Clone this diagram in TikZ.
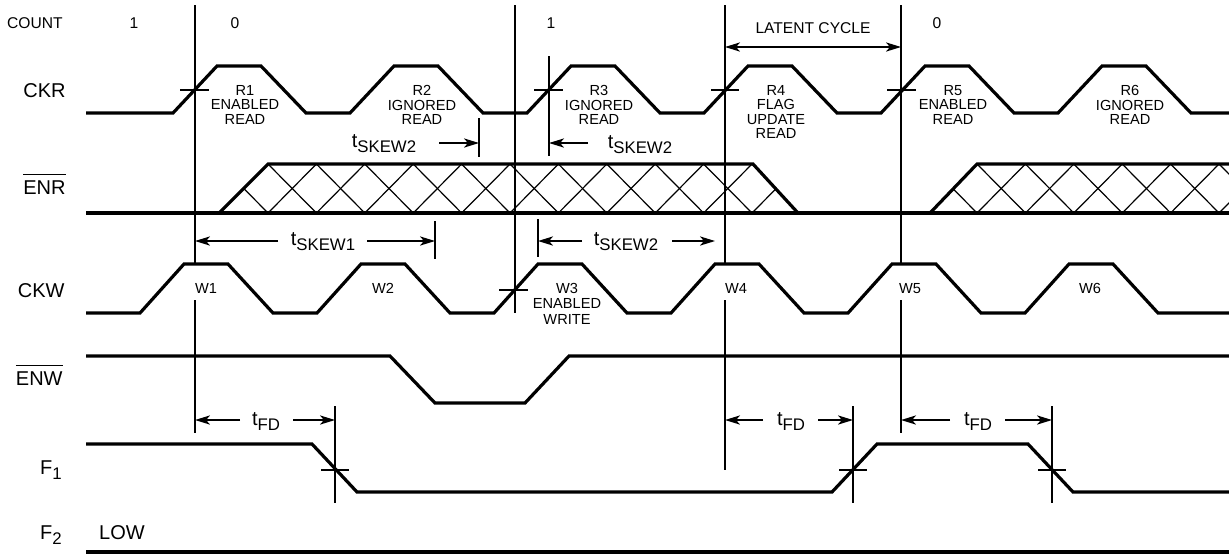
\documentclass[tikz,border=0pt]{standalone}
\usepackage{fontspec}
\setmainfont{Liberation Sans}
\usetikzlibrary{arrows.meta}
\newcommand\myovl[1]{\vbox{\hrule height 0.7pt\kern 2.6pt\hbox{#1}}}
\newcommand\tsub[2]{#1\raisebox{-2.8pt}{\fontsize{8.4}{9}\selectfont #2}}
\newcommand\fsub[2]{#1\raisebox{-2.6pt}{\fontsize{8.4}{9}\selectfont #2}}
\begin{document}
\begin{tikzpicture}[x=0.5pt,y=-0.5pt,
  wave/.style={line width=1.6pt},
  guide/.style={line width=0.8pt},
  stopline/.style={line width=1.3pt},
  hatchline/.style={line width=0.6pt},
  dimline/.style={line width=0.8pt,-{Stealth[length=7.5pt,width=4.6pt,inset=2pt]}},
  bothline/.style={line width=0.8pt,{Stealth[length=7.5pt,width=4.6pt,inset=2pt]}-{Stealth[length=7.5pt,width=4.6pt,inset=2pt]}},
  bigtxt/.style={font=\fontsize{10}{12}\selectfont,inner sep=0pt},
  smalltxt/.style={font=\fontsize{7.3}{7.2}\selectfont,inner sep=0pt,align=center,anchor=north},
  wlbl/.style={font=\fontsize{7.3}{7.3}\selectfont,fill=white,inner xsep=1pt,inner ysep=0pt,text height=14.7pt,text depth=3.3pt,anchor=base},
  cnt/.style={font=\fontsize{7.8}{9}\selectfont,inner sep=0pt,anchor=base}]
\useasboundingbox (0,0) rectangle (1229,554);

% ---------- guide lines ----------
\draw[guide] (195,5) -- (195,433);
\draw[guide] (515,5) -- (515,313);
\draw[guide] (725,5) -- (725,470);
\draw[guide] (901,5) -- (901,433);
\draw[guide] (549,56) -- (549,156);
\draw[guide] (335,406) -- (335,503);
\draw[guide] (853,406) -- (853,503);
\draw[guide] (1052,406) -- (1052,503);
\draw[stopline] (479,118) -- (479,157);
\draw[stopline] (435,221) -- (435,259);
\draw[stopline] (538,219) -- (538,257);
% crossing ticks
\draw[guide] (180,90) -- (209,90);
\draw[guide] (534,90) -- (563,90);
\draw[guide] (711,90) -- (739,90);
\draw[guide] (887,90) -- (916,90);
\draw[guide] (499,290) -- (528,290);
\draw[guide] (321,470) -- (349,470);
\draw[guide] (839,470) -- (867,470);
\draw[guide] (1038,470) -- (1066,470);

% ---------- labels on the left ----------
\node[cnt,anchor=base east] (count) at (63,28) {COUNT};
\node[cnt] (c1) at (134,28) {1};
\node[cnt] (c2) at (235,28) {0};
\node[cnt] (c3) at (551,28) {1};
\node[cnt] (c4) at (937,28) {0};
\node[bigtxt,anchor=base east] (lckr) at (66,97) {CKR};
\node[bigtxt,anchor=base east] (lenr) at (66,194) {\myovl{ENR}};
\node[bigtxt,anchor=base east] (lckw) at (65,297) {CKW};
\node[bigtxt,anchor=base east] (lenw) at (63,385) {\myovl{ENW}};
\node[bigtxt,anchor=base east] (lf1) at (62,474) {\fsub{F}{1}};
\node[bigtxt,anchor=base east] (lf2) at (62,539) {\fsub{F}{2}};
\node[bigtxt,anchor=base] (low) at (122,539) {LOW};

% ---------- read / write labels ----------
\node[smalltxt] (r1) at (245,85) {R1\\ENABLED\\READ};
\node[smalltxt] (r2) at (422,85) {R2\\IGNORED\\READ};
\node[smalltxt] (r3) at (599,85) {R3\\IGNORED\\READ};
\node[smalltxt] (r4) at (776,85) {R4\\FLAG\\UPDATE\\READ};
\node[smalltxt] (r5) at (953,85) {R5\\ENABLED\\READ};
\node[smalltxt] (r6) at (1130,85) {R6\\IGNORED\\READ};
\node[wlbl] (w1) at (206,293.4) {W1};
\node[wlbl] (w2) at (383,293.4) {W2};
\node[smalltxt,font=\fontsize{7.3}{7.6}\selectfont] (w3) at (567,283) {W3\\ENABLED\\WRITE};
\node[wlbl] (w4) at (736,293.4) {W4};
\node[wlbl] (w5) at (910,293.4) {W5};
\node[wlbl] (w6) at (1090,293.4) {W6};

% ---------- ENR hatch ----------
\begin{scope}
\clip (219,213) -- (268,164) -- (753,164) -- (798,213) -- cycle;
\foreach \n in {-2,...,12}{
  \draw[hatchline] ({268+48.4*\n},164) -- ++(48.4,49);
  \draw[hatchline] ({268+48.4*\n},164) -- ++(-48.4,49);
}
\end{scope}
\begin{scope}
\clip (930,213) -- (977,164) -- (1229,164) -- (1229,213) -- cycle;
\foreach \n in {-2,...,6}{
  \draw[hatchline] ({977+48.4*\n},164) -- ++(48.4,49);
  \draw[hatchline] ({977+48.4*\n},164) -- ++(-48.4,49);
}
\end{scope}

% ---------- waveforms ----------
\draw[wave] (86,113) -- (173,113) -- (217,66) -- (261,66) -- (306,113) -- (350,113) -- (394,66) -- (438,66) -- (483,113) -- (527,113) -- (571,66) -- (615,66) -- (660,113) -- (704,113) -- (748,66) -- (792,66) -- (837,113) -- (881,113) -- (925,66) -- (969,66) -- (1014,113) -- (1058,113) -- (1102,66) -- (1146,66) -- (1191,113) -- (1229,113);
\draw[wave] (86,213) -- (1229,213);
\draw[wave] (219,213) -- (268,164) -- (753,164) -- (798,213);
\draw[wave] (930,213) -- (977,164) -- (1229,164);
\draw[wave] (86,313) -- (140,313) -- (184,264) -- (228,264) -- (273,313) -- (317,313) -- (361,264) -- (405,264) -- (450,313) -- (494,313) -- (538,264) -- (582,264) -- (627,313) -- (671,313) -- (715,264) -- (759,264) -- (804,313) -- (848,313) -- (892,264) -- (936,264) -- (981,313) -- (1025,313) -- (1069,264) -- (1113,264) -- (1158,313) -- (1229,313);
\draw[wave] (86,356) -- (390,356) -- (435,403) -- (525,403) -- (569,356) -- (1229,356);
\draw[wave] (86,444) -- (312,444) -- (357,492) -- (832,492) -- (877,444) -- (1028,444) -- (1073,492) -- (1229,492);
\draw[wave] (86,552) -- (1229,552);

% ---------- latent cycle ----------
\node[cnt] (lat) at (813,33) {LATENT CYCLE};
\coordinate (latA) at (725,47);
\coordinate (latB) at (901,47);
\draw[bothline] (latA) -- (latB);

% ---------- skew dimensions ----------
\node[bigtxt,anchor=base] (sk2a) at (384,147) {\tsub{t}{SKEW2}};
\coordinate (sk2aA) at (439,143);
\coordinate (sk2aB) at (479,143);
\draw[dimline] (sk2aA) -- (sk2aB);

\node[bigtxt,anchor=base] (sk2b) at (640,148) {\tsub{t}{SKEW2}};
\coordinate (sk2bA) at (588,143);
\coordinate (sk2bB) at (549,143);
\draw[dimline] (sk2bA) -- (sk2bB);

\node[bigtxt,anchor=base] (sk1) at (323,245) {\tsub{t}{SKEW1}};
\coordinate (sk1A) at (278,241);
\coordinate (sk1B) at (195,241);
\coordinate (sk1C) at (367,241);
\coordinate (sk1D) at (435,241);
\draw[dimline] (sk1A) -- (sk1B);
\draw[dimline] (sk1C) -- (sk1D);

\node[bigtxt,anchor=base] (sk2c) at (626,245) {\tsub{t}{SKEW2}};
\coordinate (sk2cA) at (582,241);
\coordinate (sk2cB) at (538,241);
\coordinate (sk2cC) at (672,241);
\coordinate (sk2cD) at (715,241);
\draw[dimline] (sk2cA) -- (sk2cB);
\draw[dimline] (sk2cC) -- (sk2cD);

% ---------- flag delays ----------
\node[bigtxt,anchor=base] (fd1) at (266,425) {\tsub{t}{FD}};
\coordinate (fd1A) at (240,420);
\coordinate (fd1B) at (195,420);
\coordinate (fd1C) at (293,420);
\coordinate (fd1D) at (335,420);
\draw[dimline] (fd1A) -- (fd1B);
\draw[dimline] (fd1C) -- (fd1D);

\node[bigtxt,anchor=base] (fd2) at (791,425) {\tsub{t}{FD}};
\coordinate (fd2A) at (763,420);
\coordinate (fd2B) at (725,420);
\coordinate (fd2C) at (818,420);
\coordinate (fd2D) at (853,420);
\draw[dimline] (fd2A) -- (fd2B);
\draw[dimline] (fd2C) -- (fd2D);

\node[bigtxt,anchor=base] (fd3) at (978,425) {\tsub{t}{FD}};
\coordinate (fd3A) at (950,420);
\coordinate (fd3B) at (901,420);
\coordinate (fd3C) at (1005,420);
\coordinate (fd3D) at (1052,420);
\draw[dimline] (fd3A) -- (fd3B);
\draw[dimline] (fd3C) -- (fd3D);
\end{tikzpicture}
\end{document}
